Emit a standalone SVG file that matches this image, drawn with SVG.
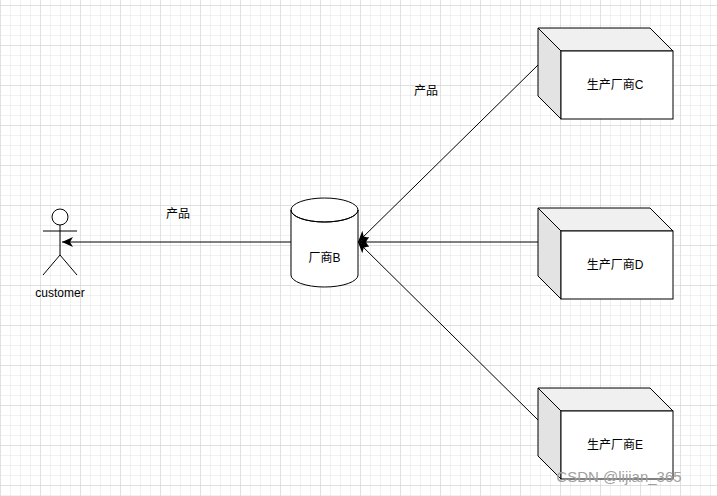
<svg xmlns="http://www.w3.org/2000/svg" width="717" height="496" viewBox="0 0 717 496">
<defs>
<pattern id="g" width="10" height="10" patternUnits="userSpaceOnUse" x="1" y="6"><path d="M10 0V10H0" fill="none" stroke="#e3e3e3" stroke-width="1"/></pattern>
<pattern id="G" width="40" height="40" patternUnits="userSpaceOnUse" x="1" y="6"><path d="M40 0V40H0" fill="none" stroke="#d0d0d0" stroke-width="1"/></pattern>
<marker id="a" markerWidth="12" markerHeight="10" refX="11" refY="5" orient="auto" markerUnits="userSpaceOnUse"><path d="M0 0L11 5L0 10L3 5Z" fill="#000"/></marker>
<g id="cube"><path d="M0 0H112L135 23V91H23L0 68Z" fill="#fff" stroke="none"/><path d="M0 0H112L135 23H23Z" fill="#f0f0f0" stroke="#000"/><path d="M0 0L23 23V91L0 68Z" fill="#e3e3e3" stroke="#000"/><rect x="23" y="23" width="112" height="68" fill="#fff" stroke="#000"/></g>
</defs>
<style>text{font-family:"Liberation Sans","Noto Sans CJK SC",sans-serif;font-size:12px;fill:#000;text-anchor:middle}.l{stroke:#000;stroke-width:1;fill:none}</style>
<rect width="717" height="496" fill="#fff"/>
<rect width="717" height="496" fill="url(#g)"/>
<rect width="717" height="496" fill="url(#G)"/>
<g id="connectors">
<path class="l" d="M291 242H62" marker-end="url(#a)"/>
<path class="l" d="M538 65L358 242" marker-end="url(#a)"/>
<path class="l" d="M538 242H358" marker-end="url(#a)"/>
<path class="l" d="M538 420L358 242" marker-end="url(#a)"/>
<text x="178" y="218">产品</text>
<text x="426" y="95">产品</text>
</g>
<g id="customer" class="l"><circle cx="60" cy="217" r="8" fill="#fff"/><path d="M43 231H77M60 225V255L43 275M60 255L77 275"/></g>
<text x="60" y="297">customer</text>
<g id="B"><path d="M291 210V275A33.5 12 0 0 0 358 275V210" fill="#fff" stroke="#000"/><ellipse cx="324.5" cy="210" rx="33.5" ry="12" fill="#fff" stroke="#000"/><path d="M291 210A33.5 12 0 0 0 358 210" class="l"/><text x="324.5" y="262">厂商B</text></g>
<g id="C"><use href="#cube" x="538" y="28"/><text x="615" y="89">生产厂商C</text></g>
<g id="D"><use href="#cube" x="538" y="208"/><text x="615" y="269">生产厂商D</text></g>
<g id="E"><use href="#cube" x="538" y="388"/><text x="615" y="449">生产厂商E</text></g>
<text x="619" y="482" style="font-size:15px;fill:#a0a0a0">CSDN @lijian_365</text>
</svg>
